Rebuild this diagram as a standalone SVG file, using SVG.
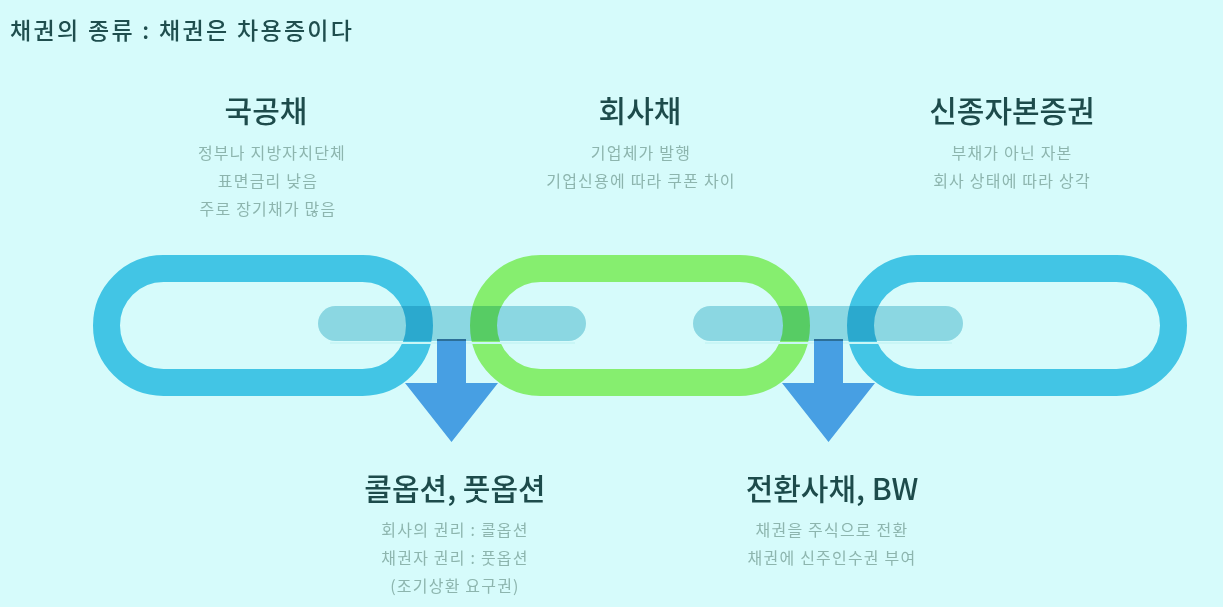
<svg xmlns="http://www.w3.org/2000/svg" width="1223" height="607" viewBox="0 0 1223 607">
  <style>
    text { font-family: "Noto Sans CJK KR", "Noto Sans", sans-serif; }
    .title { font-size: 23px; fill: #1f4e4e; font-weight: 500; }
    .head { font-size: 30px; fill: #1d4b4b; font-weight: 500; text-anchor: middle; }
    .sub { font-size: 16px; fill: #8db5ae; text-anchor: middle; letter-spacing: 1.2px; }
    .link { fill: none; stroke-width: 27; }
    .blue { stroke: #42c5e5; }
    .green { stroke: #86ee6f; }
    .bar { fill: #a6dbe6; mix-blend-mode: multiply; }
    .hl { stroke: #c9f6f6; stroke-width: 2; }
    .arrow { fill: #479fe3; }
    .atop { stroke: #2c6f98; stroke-width: 2; }
  </style>
  <rect width="1223" height="607" fill="#d6fbfb"/>

  <text class="title" x="10" y="39" textLength="342" lengthAdjust="spacing">채권의 종류 : 채권은 차용증이다</text>

  <g id="chain">
    <rect class="link blue" x="106.5" y="268.5" width="313" height="114" rx="57"/>
    <rect class="link green" x="483.5" y="268.5" width="313" height="114" rx="57"/>
    <rect class="link blue" x="860.5" y="268.5" width="313" height="114" rx="57"/>
    <rect class="bar" x="318" y="306" width="268" height="35" rx="17.5"/>
    <rect class="bar" x="693" y="306" width="270" height="35" rx="17.5"/>
    <line class="hl" x1="330" y1="343" x2="575" y2="343"/>
    <line class="hl" x1="705" y1="343" x2="952" y2="343"/>
  </g>

  <g id="connectors">
    <path class="arrow" d="M437,340 H466 V383 H498 L451.5,442 L405,383 H437 Z"/>
    <line class="atop" x1="437" y1="340" x2="466" y2="340"/>
    <path class="arrow" d="M814,340 H843 V383 H875 L828.5,442 L782,383 H814 Z"/>
    <line class="atop" x1="814" y1="340" x2="843" y2="340"/>
  </g>

  <g id="node-gukgongchae">
    <text class="head" x="266" y="122">국공채</text>
    <text class="sub" x="272" y="159">정부나 지방자치단체</text>
    <text class="sub" x="268" y="187">표면금리 낮음</text>
    <text class="sub" x="268" y="215">주로 장기채가 많음</text>
  </g>

  <g id="node-hoesachae">
    <text class="head" x="640" y="122">회사채</text>
    <text class="sub" x="641" y="159">기업체가 발행</text>
    <text class="sub" x="641" y="187">기업신용에 따라 쿠폰 차이</text>
  </g>

  <g id="node-sinjong">
    <text class="head" x="1012" y="122">신종자본증권</text>
    <text class="sub" x="1012" y="159">부채가 아닌 자본</text>
    <text class="sub" x="1012" y="187">회사 상태에 따라 상각</text>
  </g>

  <g id="node-option">
    <text class="head" x="455" y="500">콜옵션, 풋옵션</text>
    <text class="sub" x="455" y="536">회사의 권리 : 콜옵션</text>
    <text class="sub" x="455" y="564">채권자 권리 : 풋옵션</text>
    <text class="sub" x="455" y="592">(조기상환 요구권)</text>
  </g>

  <g id="node-convertible">
    <text class="head" x="832" y="500">전환사채, BW</text>
    <text class="sub" x="832" y="536">채권을 주식으로 전환</text>
    <text class="sub" x="832" y="564">채권에 신주인수권 부여</text>
  </g>
</svg>
